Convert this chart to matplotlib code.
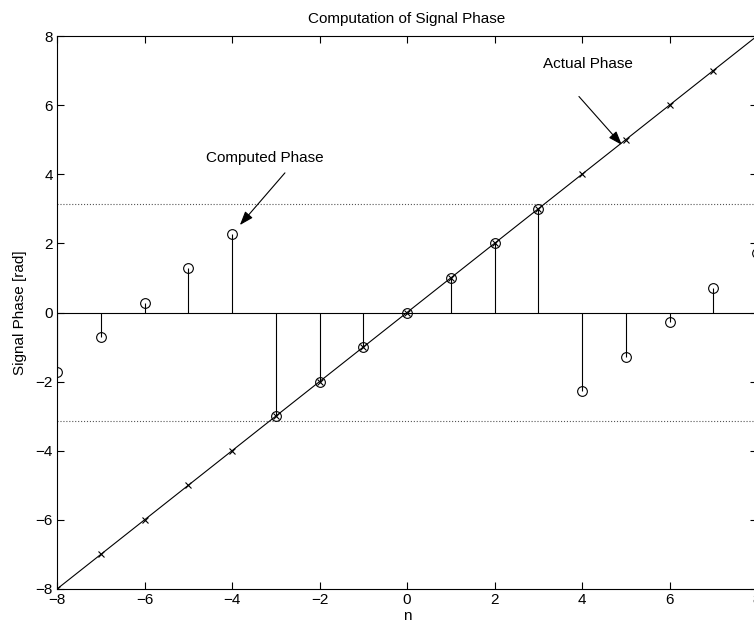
import numpy as np
import matplotlib
matplotlib.use('Agg')
import matplotlib.pyplot as plt

plt.rcParams['font.family'] = ['Liberation Sans', 'DejaVu Sans']
plt.rcParams['font.size'] = 11

# sample index and phase values
n = [-8, -7, -6, -5, -4, -3, -2, -1, 0, 1, 2, 3, 4, 5, 6, 7, 8]
computed_phase = [-1.72, -0.72, 0.28, 1.28, 2.28, -3.0, -2.0, -1.0, 0.0,
                  1.0, 2.0, 3.0, -2.28, -1.28, -0.28, 0.72, 1.72]
actual_phase = [-8, -7, -6, -5, -4, -3, -2, -1, 0, 1, 2, 3, 4, 5, 6, 7, 8]
pi_levels = [np.pi, -np.pi]

fig = plt.figure(figsize=(7.54, 6.24), dpi=100)
ax = fig.add_axes([57/754, 1 - 589/624, 700/754, 553/624])

# dotted lines at +/- pi
for lv in pi_levels:
    ax.plot([n[0], n[-1]], [lv, lv], ':', color='#555555', lw=0.8)

# stem plot of computed phase
ax.plot([n[0], n[-1]], [0, 0], '-', color='k', lw=0.8)
ax.vlines(n, 0, computed_phase, color='k', lw=0.8)
ax.plot(n, computed_phase, 'o', mfc='none', mec='k', ms=7, mew=0.8)

# actual phase line
ax.plot(n, actual_phase, '-x', color='k', lw=0.8, ms=5, mew=0.8)

# text labels with arrows
arrow = dict(arrowstyle='-|>,head_length=0.7,head_width=0.25', color='k',
             lw=0.8, shrinkA=0, shrinkB=0, mutation_scale=12)
ax.text(4.14, 7.2, 'Actual Phase', ha='center', va='center')
ax.annotate('', xy=(4.91, 4.85), xytext=(3.93, 6.25), arrowprops=arrow)
ax.text(-3.25, 4.47, 'Computed Phase', ha='center', va='center')
ax.annotate('', xy=(-3.82, 2.53), xytext=(-2.79, 4.04), arrowprops=arrow)

ax.set_xlim(-8, 8)
ax.set_ylim(-8, 8)
ax.set_xticks(range(-8, 9, 2))
ax.set_yticks(range(-8, 9, 2))
ax.tick_params(direction='in', top=True, right=True, length=5, width=0.8, pad=3)
for s in ax.spines.values():
    s.set_linewidth(0.8)
ax.set_title('Computation of Signal Phase', fontsize=11, pad=9)
ax.set_xlabel('n', labelpad=1)
ax.set_ylabel('Signal Phase [rad]', labelpad=6)

fig.savefig('out.png', dpi=100)
